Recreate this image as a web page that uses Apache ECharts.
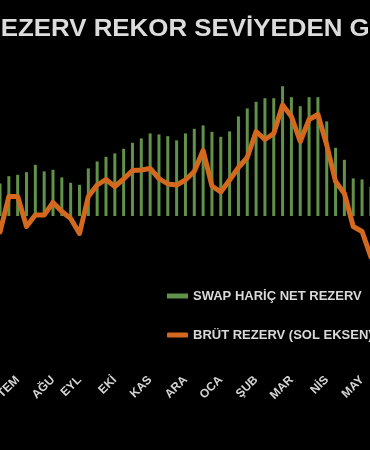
<!DOCTYPE html>
<html>
<head>
<meta charset="utf-8">
<script src="https://cdn.jsdelivr.net/npm/echarts@6/dist/echarts.min.js"></script>
<style>
html,body{margin:0;padding:0;background:#000;}
#chart{width:370px;height:450px;}
</style>
</head>
<body>
<div id="chart"></div>
<script>
// Weekly categories (month of each week)
var weeks = ['HAZ','HAZ','TEM','TEM','TEM','TEM','AĞU','AĞU','AĞU','EYL','EYL','EYL','EYL',
  'EKİ','EKİ','EKİ','EKİ','KAS','KAS','KAS','KAS','ARA','ARA','ARA','ARA',
  'OCA','OCA','OCA','OCA','ŞUB','ŞUB','ŞUB','ŞUB','MAR','MAR','MAR','MAR',
  'NİS','NİS','NİS','NİS','MAY','MAY'];

// Swap hariç net rezerv (bn $, right axis)
var netReserve = [16.3,19.9,20.6,21.9,25.6,22.3,23.1,19.3,16.6,15.6,23.8,27.3,29.6,31.3,33.6,
  36.6,38.8,41.3,40.8,39.9,37.8,41.3,43.6,45.3,42.1,39.6,42.3,49.8,53.8,57.1,58.9,58.9,
  64.9,59.4,54.9,59.4,59.4,47.3,34.1,28.1,18.8,18.3,14.6];

// Brüt rezerv (bn $, left axis)
var grossReserve = [144.8,151.9,151.9,145.9,148.2,148.2,150.7,148.9,147.5,144.5,151.9,154.2,155.3,
  153.9,155.4,157.1,157.2,157.5,155.5,154.4,154.2,155.2,156.9,161.1,154.0,152.8,155.2,157.7,
  159.7,164.9,163.3,164.5,170.2,167.9,162.9,167.3,168.3,162.2,154.9,152.5,145.9,144.9,139.8];

var titleText = 'REZERV REKOR SEVİYEDEN GERİLEDİ';
var seriesNames = ['SWAP HARİÇ NET REZERV', 'BRÜT REZERV (SOL EKSEN)'];

var chart = echarts.init(document.getElementById('chart'), null, {renderer:'canvas'});
var font = '"Liberation Sans", Arial, sans-serif';
chart.setOption({
  backgroundColor: '#000',
  animation: false,
  graphic: [{
    type: 'text',
    x: -18, y: 29.5,
    scaleX: 1.056, scaleY: 1,
    silent: true,
    style: {
      text: titleText,
      fill: '#dcdcdc',
      font: 'bold 24.5px ' + font,
      align: 'left',
      verticalAlign: 'middle'
    }
  }],
  legend: {
    orient: 'vertical',
    left: 162, top: 283,
    itemWidth: 21, itemHeight: 5,
    itemGap: 23,
    textStyle: {color:'#d9d9d9', fontSize:13, fontWeight:'bold', fontFamily:font, lineHeight:16},
    data: [
      {name: seriesNames[0], icon: 'rect'},
      {name: seriesNames[1], icon: 'roundRect'}
    ]
  },
  grid: {left: -4.4, right: -5.3, top: 56, bottom: 144, containLabel: false, outerBoundsMode: 'none'},
  xAxis: {
    type: 'category',
    data: weeks,
    boundaryGap: true,
    axisLine: {show:false},
    axisTick: {show:false},
    splitLine: {show:false},
    axisLabel: {
      rotate: 45,
      margin: 72,
      color: '#d4d4d4',
      fontSize: 12,
      fontWeight: 'bold',
      fontFamily: font,
      interval: function(i){ return i > 0 && weeks[i] !== weeks[i-1]; }
    }
  },
  yAxis: [
    {type:'value', min:130, max:180, show:false, splitLine:{show:false}},
    {type:'value', min:-45, max:80, show:false, splitLine:{show:false}}
  ],
  series: [
    {
      name: seriesNames[0],
      type: 'bar',
      yAxisIndex: 1,
      data: netReserve,
      barWidth: 3,
      itemStyle: {color: '#62914a'},
      z: 2
    },
    {
      name: seriesNames[1],
      type: 'line',
      yAxisIndex: 0,
      data: grossReserve,
      showSymbol: false,
      symbol: 'none',
      lineStyle: {color:'#d2691e', width:5, cap:'round', join:'round'},
      itemStyle: {color:'#d2691e'},
      z: 3
    }
  ]
});
</script>
</body>
</html>
